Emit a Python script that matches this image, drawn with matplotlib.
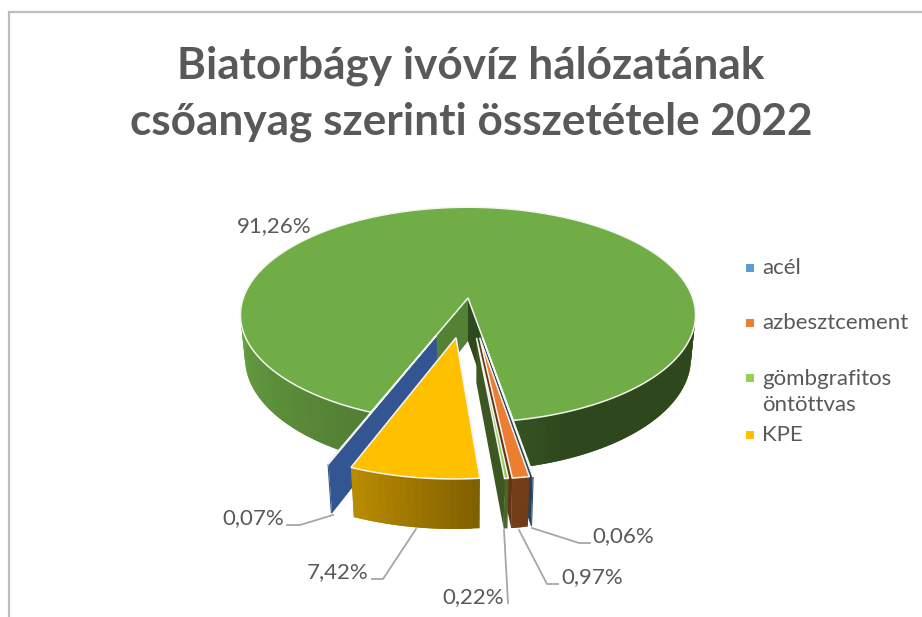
#!/usr/bin/env python3
import matplotlib

matplotlib.use("Agg")

import matplotlib.pyplot as plt
import numpy as np
from matplotlib.colors import to_rgb

title = "Biatorbágy ivóvíz hálózatának\ncsőanyag szerinti összetétele 2022"
materials = ["acél", "azbesztcement", "gömbgrafitos\nöntöttvas", "KPE", "egyéb", "KMPVC"]
shares = [0.06, 0.97, 0.22, 7.42, 0.07, 91.26]
slice_colors = ["#5B9BD5", "#ED7D31", "#92D050", "#FFC000", "#4472C4", "#70AD47"]
legend_count = 4

GREY = "#595959"
LEADER = "#A6A6A6"

# camera for the fake 3d pie, fitted to pixel positions
U0, V0 = 468.0, 298.0
R, B, D = 224.7, 105.0, 44.0
K, Q = 0.157, 0.02
START = 9.8
EXPLODE = 0.36
TOP_EDGE = "#F2F5F0"


def project(x, y, z):
    s = 1.0 / (1.0 - K * np.asarray(y) + Q * np.asarray(z))
    return np.column_stack([U0 + R * np.asarray(x) * s, V0 + (B * np.asarray(y) + D * np.asarray(z)) * s])


def shade(color, factor):
    return tuple(np.array(to_rgb(color)) * factor)


def wall_factor(phi):
    # light comes from the left, the right side of the pie goes dark
    phi = (phi + 180) % 360 - 180
    return np.interp(phi, [-90, -20, 5, 12, 22, 90], [0.95, 0.72, 0.5, 0.47, 0.41, 0.41])


def signed_area(pts):
    x, y = pts[:, 0], pts[:, 1]
    return np.sum(x * np.roll(y, -1) - np.roll(x, -1) * y)


def draw_slice(ax, a0, a1, color, offset):
    mid = np.radians((a0 + a1) / 2)
    ox, oy = offset * np.sin(mid), offset * np.cos(mid)
    n = max(2, int(abs(a1 - a0) / 1.5) + 2)
    phi = np.linspace(a0, a1, n)
    rx = ox + np.sin(np.radians(phi))
    ry = oy + np.cos(np.radians(phi))

    # the two cut faces, only when they turn towards the viewer
    for px, py, f, sign in [(rx[0], ry[0], 0.75, -1), (rx[-1], ry[-1], 0.42, 1)]:
        pts = project([ox, px, px, ox], [oy, py, py, oy], [0, 0, 1, 1])
        if signed_area(pts) * sign > 0:
            ax.fill(*pts.T, color=shade(color, f), lw=0, zorder=ax.z)
            ax.z += 1

    # rim wall, front part only; each quad runs under the next to hide seams
    for i in range(n - 1):
        if np.cos(np.radians((phi[i] + phi[i + 1]) / 2)) < -0.25:
            continue
        j = min(i + 2, n - 1)
        xs = [rx[i], rx[j], rx[j], rx[i]]
        ys = [ry[i], ry[j], ry[j], ry[i]]
        c = shade(color, wall_factor((phi[i] + phi[i + 1]) / 2))
        ax.fill(*project(xs, ys, [0, 0, 1, 1]).T, color=c, lw=0, zorder=ax.z)
        ax.z += 1

    top = project(np.r_[ox, rx], np.r_[oy, ry], np.zeros(n + 1))
    ax.fill(*top.T, facecolor=color, edgecolor=TOP_EDGE, lw=1.1, zorder=ax.z)
    ax.z += 1


fig = plt.figure(figsize=(9.22, 6.17), dpi=100)
ax = fig.add_axes([0, 0, 1, 1])
ax.set_xlim(0, 922)
ax.set_ylim(617, 0)
ax.axis("off")
ax.z = 3

plt.rcParams["font.family"] = ["Lato", "DejaVu Sans"]

ax.plot([9, 9, 922], [617, 12, 12], color="#BDBDBD", lw=1.6, solid_joinstyle="miter", zorder=1)

ax.text(471, 94, title, ha="center", va="center", fontsize=31.8, fontweight="bold",
        color=GREY, linespacing=1.46)

spans = np.array(shares) * 3.6
ends = START - np.cumsum(spans)
starts = ends + spans
# back to front: main slice, the left ones, then the slivers from the right
for i in [5, 4, 3, 0, 1, 2]:
    draw_slice(ax, starts[i], ends[i], slice_colors[i], 0.0 if i == 5 else EXPLODE)

label_pos = [(623, 536), (592, 577), (473, 597), (338, 572), (253, 518), (274, 226)]
for share, pos in zip(shares, label_pos):
    text = f"{share:.2f}".replace(".", ",") + "%"
    ax.text(pos[0], pos[1], text, ha="center", va="center", fontsize=16, color=GREY, zorder=5000)

leaders = [
    ([532, 579, 590], [528, 543, 543]),
    ([519, 547, 558], [530, 584, 584]),
    ([504, 508], [530, 603]),
    ([416, 383, 372], [529, 579, 579]),
    ([333, 300, 287], [515, 525, 525]),
]
for xs, ys in leaders:
    ax.plot(xs, ys, color=LEADER, lw=1.3, zorder=5000)

legend_y = [268, 323, 378, 435]
legend_text_y = [268, 323, 392, 435]
for i in range(legend_count):
    ax.fill([746, 754, 754, 746], [legend_y[i] - 4, legend_y[i] - 4, legend_y[i] + 4, legend_y[i] + 4],
            color=slice_colors[i], lw=0, zorder=5000)
    ax.text(762, legend_text_y[i], materials[i], ha="left", va="center", fontsize=16, color=GREY,
            linespacing=1.42)

fig.savefig("out.png", dpi=100)
